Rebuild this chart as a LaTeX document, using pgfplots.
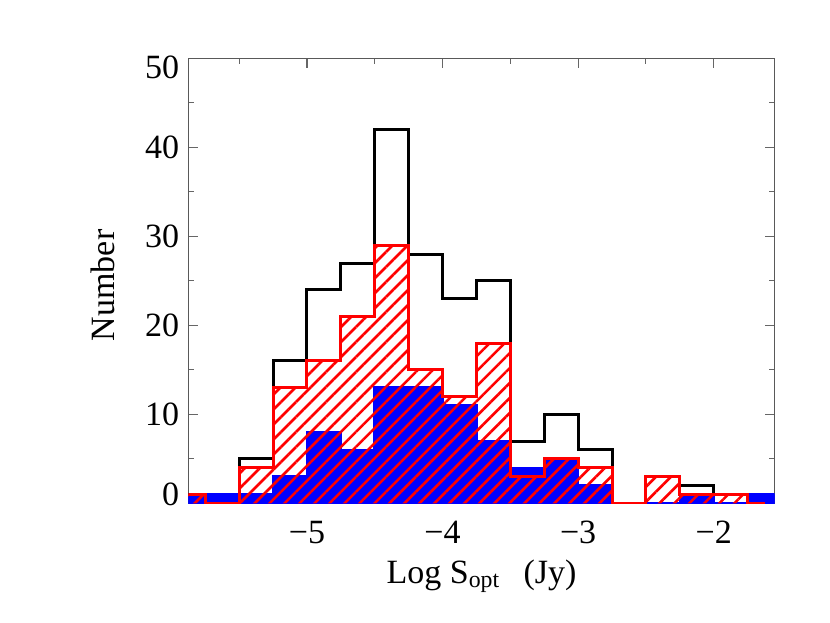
\documentclass[border=0pt]{standalone}
\usepackage{fontspec}
\setmainfont{Liberation Serif}
\usepackage{pgfplots}
\pgfplotsset{compat=1.18}
\usetikzlibrary{calc,patterns.meta}

% histogram counts, value at left bin edge, last row closes the step
\pgfplotstableread{
x      n
-5.875 1
-5.75  0
-5.5   5
-5.25  16
-5.0   24
-4.75  27
-4.5   42
-4.25  28
-4.0   23
-3.75  25
-3.5   7
-3.25  10
-3.0   6
-2.75  0
-2.5   3
-2.25  2
-2.0   1
-1.75  0
-1.625 0
}\alldata
\pgfplotstableread{
x      n
-5.875 1
-5.75  0
-5.5   4
-5.25  13
-5.0   16
-4.75  21
-4.5   29
-4.25  15
-4.0   12
-3.75  18
-3.5   3
-3.25  5
-3.0   4
-2.75  0
-2.5   3
-2.25  1
-2.0   1
-1.75  0
-1.625 0
}\reddata
\pgfplotstableread{
x      n
-5.875 1
-5.75  1
-5.5   1
-5.25  3
-5.0   8
-4.75  6
-4.5   13
-4.25  13
-4.0   11
-3.75  7
-3.5   4
-3.25  5
-3.0   2
-2.75  0
-2.5   0
-2.25  1
-2.0   0
-1.75  1
-1.55  1
}\bluedata

\begin{document}
\begin{tikzpicture}[font=\fontsize{34}{40}\selectfont]
\begin{axis}[
  name=ax,
  scale only axis,
  width=586.4pt, height=445.1pt,
  xmin=-5.875, xmax=-1.55,
  ymin=0, ymax=50,
  xtick={-5,-4,-3,-2},
  xticklabels={−5,−4,−3,−2},
  minor xtick={-5.5,-4.5,-3.5,-2.5},
  ytick={0,10,20,30,40,50},
  yticklabels={{\raisebox{9pt}[\fontcharht\font`0][0pt]{0}},10,20,30,40,{\raisebox{-9pt}[\fontcharht\font`0][0pt]{50}}},
  minor ytick={5,15,25,35,45},
  tick pos=both,
  tick align=inside,
  major tick length=10pt,
  minor tick length=5.5pt,
  every tick/.style={gray!80!black, line width=1.2pt},
  axis line style={gray!70!black, line width=1.5pt},
  yticklabel style={inner sep=9pt},
  xticklabel style={yshift=-14pt},
  xlabel={Log S\textsubscript{opt}\hspace{0.7em}(Jy)},
  ylabel={Number},
  xlabel style={at={(axis description cs:0.5,-0.118)}, anchor=north},
  ylabel style={at={(axis description cs:-0.145,0.49)}, anchor=center, rotate=0},
]
\addplot[const plot, fill=blue, draw=blue, line width=2.5pt]
  table[x=x, y=n] {\bluedata} \closedcycle;
\addplot[const plot, black, line width=3pt]
  table[x=x, y=n] {\alldata};
\addplot[const plot, draw=none,
  pattern={Lines[angle=45, distance=10.6pt, line width=2.6pt]}, pattern color=red]
  table[x=x, y=n] {\reddata} \closedcycle;
\addplot[const plot, red, line width=3pt]
  table[x=x, y=n] {\reddata};
\end{axis}
\path ($(ax.south west)+(-188.3pt,-119.6pt)$) rectangle ($(ax.north east)+(55.3pt,58.3pt)$);
\end{tikzpicture}
\end{document}
